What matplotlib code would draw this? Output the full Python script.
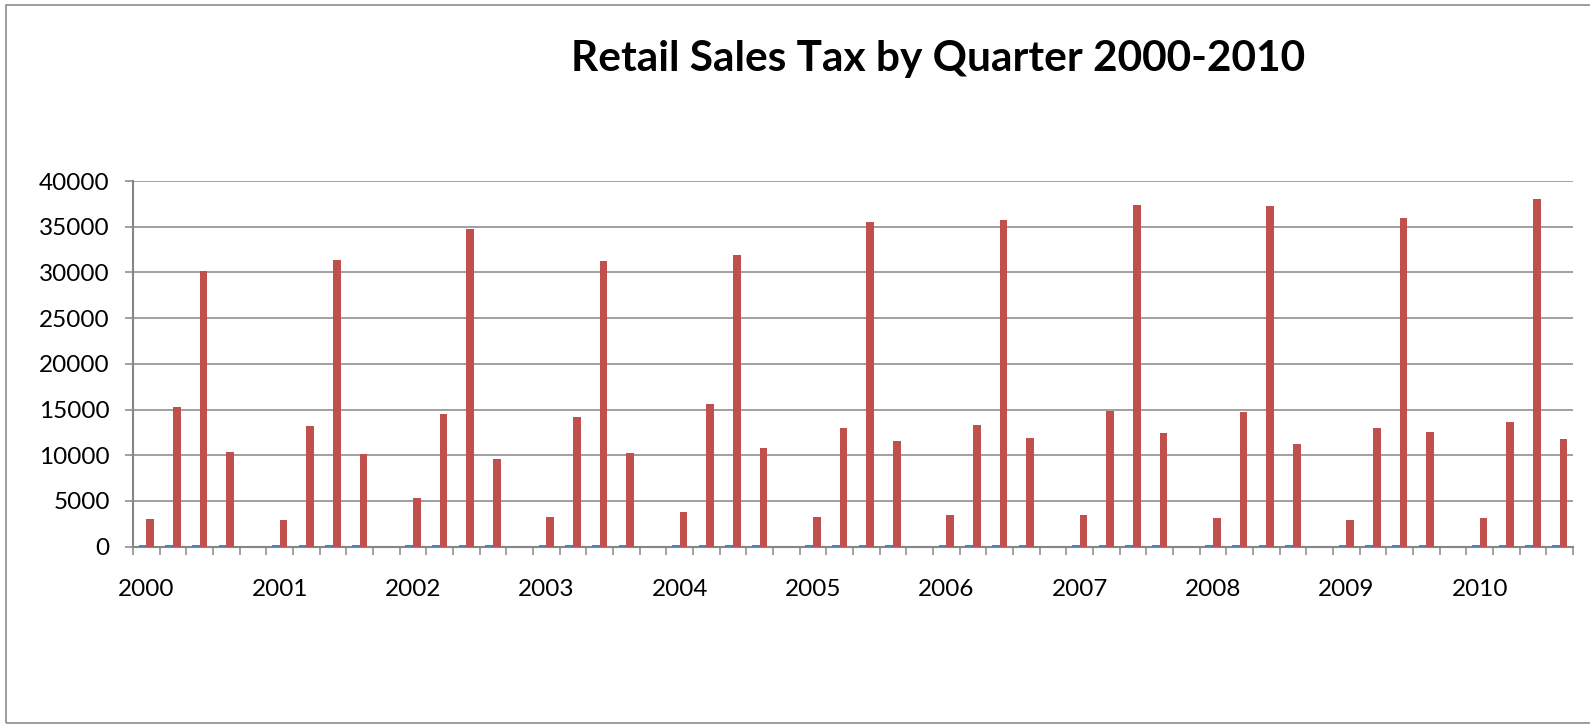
import numpy as np
import matplotlib.pyplot as plt
from matplotlib.patches import Rectangle

plt.rcParams['font.family'] = ['Lato', 'DejaVu Sans']

years = [str(y) for y in range(2000, 2011)]

# quarterly retail sales tax, Q1..Q4 for each year
tax_2000 = [3030, 15280, 30190, 10390]
tax_2001 = [2960, 13150, 31380, 10150]
tax_2002 = [5370, 14500, 34700, 9640]
tax_2003 = [3290, 14170, 31200, 10300]
tax_2004 = [3840, 15560, 31890, 10850]
tax_2005 = [3290, 12970, 35540, 11510]
tax_2006 = [3510, 13300, 35730, 11910]
tax_2007 = [3470, 14870, 37330, 12420]
tax_2008 = [3140, 14690, 37300, 11180]
tax_2009 = [2960, 12970, 35910, 12600]
tax_2010 = [3140, 13660, 37990, 11730]

# quarter column, plotted as its own series
quarter_series = [150, 150, 150, 150]

yearly = [tax_2000, tax_2001, tax_2002, tax_2003, tax_2004, tax_2005,
          tax_2006, tax_2007, tax_2008, tax_2009, tax_2010]

# each year takes 4 quarter rows plus a blank row (none after 2010)
red, blue, labels = [], [], []
for i, (yr, vals) in enumerate(zip(years, yearly)):
    red += vals
    blue += quarter_series
    labels += [yr, '', '', '']
    if i < len(years) - 1:
        red.append(0)
        blue.append(0)
        labels.append('')

x = np.arange(len(red))
w = 1 / 3.5

fig = plt.figure(figsize=(15.9, 7.24), dpi=100)
ax = fig.add_axes([133 / 1590, 1 - 546.7 / 724, 1440 / 1590, 365.7 / 724])

ax.bar(x - w / 2, blue, width=w, color='#4F81BD', zorder=3)
ax.bar(x + w / 2, red, width=w, color='#C0504D', zorder=3)

ax.set_xlim(-0.5, len(red) - 0.5)
ax.set_ylim(0, 40000)
ax.set_yticks(np.arange(0, 40001, 5000))

ax.set_xticks([i for i, l in enumerate(labels) if l])
ax.set_xticklabels([l for l in labels if l])
ax.set_xticks(np.arange(-0.5, len(red)), minor=True)

gray = '#868686'
ax.grid(axis='y', color=gray, linewidth=1.1, zorder=0)
ax.set_axisbelow(True)
for s in ['top', 'right']:
    ax.spines[s].set_visible(False)
for s in ['left', 'bottom']:
    ax.spines[s].set_color(gray)
    ax.spines[s].set_linewidth(1.5)

ax.tick_params(axis='y', direction='out', length=5.8, width=1.1, color=gray,
               labelsize=17.5, pad=11)
ax.tick_params(axis='x', which='major', length=0, labelsize=17.5, pad=23)
ax.tick_params(axis='x', which='minor', direction='out', length=5.8,
               width=1.1, color=gray)

fig.text(938 / 1590, 1 - 71 / 724, 'Retail Sales Tax by Quarter 2000-2010',
         ha='center', va='baseline', fontsize=30.5, fontweight='bold')

# chart area border
fig.patches.append(Rectangle((6 / 1590, 1 / 724), 1.0, 1 - 5.5 / 724,
                             transform=fig.transFigure, fill=False,
                             edgecolor='#8c8c8c', linewidth=1.2))

fig.savefig('out.png', dpi=100)
